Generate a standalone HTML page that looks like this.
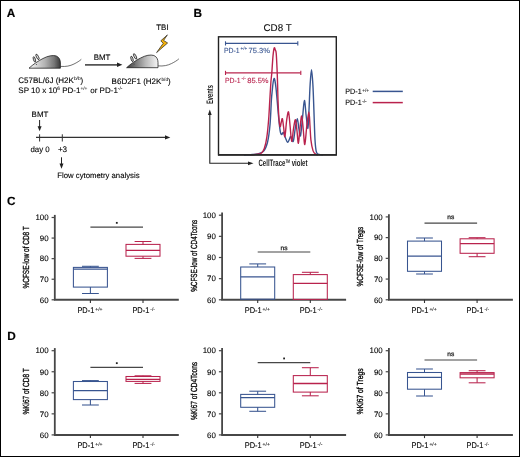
<!DOCTYPE html>
<html><head><meta charset="utf-8"><style>
html,body{margin:0;padding:0;background:#fff;}
#f{position:relative;width:520px;height:457px;overflow:hidden;background:#fff;}
svg{position:absolute;left:0;top:0;}
svg text{font-family:'Liberation Sans', sans-serif;text-rendering:geometricPrecision;}
</style></head><body><div id="f">
<svg width="520" height="457" viewBox="0 0 520 457">
<defs><filter id="bl" x="0" y="0" width="520" height="457" filterUnits="userSpaceOnUse"><feGaussianBlur stdDeviation="0.4"/></filter></defs>
<g filter="url(#bl)"><rect x="0" y="0" width="520" height="457" fill="#fff"/>
<text x="6.8" y="16.9" font-size="11.8" text-anchor="start" font-weight="bold" fill="#000" stroke="#000" stroke-width="0.15" >A</text>
<text x="193.4" y="16.9" font-size="11.8" text-anchor="start" font-weight="bold" fill="#000" stroke="#000" stroke-width="0.15" >B</text>
<text x="6.9" y="205.0" font-size="11.8" text-anchor="start" font-weight="bold" fill="#000" stroke="#000" stroke-width="0.15" >C</text>
<text x="7.2" y="340.0" font-size="11.8" text-anchor="start" font-weight="bold" fill="#000" stroke="#000" stroke-width="0.15" >D</text>
<defs><linearGradient id="g1" x1="29" y1="0" x2="60.5" y2="0" gradientUnits="userSpaceOnUse"><stop offset="0" stop-color="#f6f6f6"/><stop offset="0.5" stop-color="#b4b4b4"/><stop offset="0.8" stop-color="#767676"/><stop offset="1" stop-color="#3a3a3a"/></linearGradient><linearGradient id="g2" x1="29" y1="0" x2="60.5" y2="0" gradientUnits="userSpaceOnUse"><stop offset="0" stop-color="#3a3a3a"/><stop offset="0.3" stop-color="#7a7a7a"/><stop offset="0.6" stop-color="#b8b8b8"/><stop offset="1" stop-color="#f6f6f6"/></linearGradient></defs>
<g transform="translate(0,0)"><path d="M60.5,66.4 C66,66.8 70,66 74,64 C77,62.5 79.5,61 81.3,59.3" fill="none" stroke="#333" stroke-width="0.7"/><path d="M29,68.2 C33,64.5 38,61 43,58.5 C48,55.8 53,54.9 56.3,56 C59.2,57.2 60.4,60 60.4,63 L60.4,68.2 Z" fill="url(#g1)" stroke="#1a1a1a" stroke-width="0.75"/><ellipse cx="34.4" cy="59.4" rx="1.0" ry="2.8" transform="rotate(-17 34.4 59.4)" fill="#cfcfcf" stroke="#111" stroke-width="0.7"/><ellipse cx="37.5" cy="56.9" rx="1.05" ry="3.0" transform="rotate(-27 37.5 56.9)" fill="#dcdcdc" stroke="#111" stroke-width="0.7"/><circle cx="36.4" cy="64.6" r="0.5" fill="#333"/></g>
<g transform="translate(97.6,-0.5)"><path d="M60.5,66.4 C66,66.8 70,66 74,64 C77,62.5 79.5,61 81.3,59.3" fill="none" stroke="#333" stroke-width="0.7"/><path d="M29,68.2 C33,64.5 38,61 43,58.5 C48,55.8 53,54.9 56.3,56 C59.2,57.2 60.4,60 60.4,63 L60.4,68.2 Z" fill="url(#g2)" stroke="#1a1a1a" stroke-width="0.75"/><ellipse cx="34.4" cy="59.4" rx="1.0" ry="2.8" transform="rotate(-17 34.4 59.4)" fill="#cfcfcf" stroke="#111" stroke-width="0.7"/><ellipse cx="37.5" cy="56.9" rx="1.05" ry="3.0" transform="rotate(-27 37.5 56.9)" fill="#dcdcdc" stroke="#111" stroke-width="0.7"/><circle cx="36.4" cy="64.6" r="0.5" fill="#333"/></g>
<line x1="85" y1="64.8" x2="118" y2="64.8" stroke="#555" stroke-width="1.7"/>
<path d="M117,62.6 L122.4,64.8 L117,67 Z" fill="#222"/>
<text x="93.7" y="59.7" font-size="7.9" text-anchor="start" font-weight="normal" fill="#000" stroke="#000" stroke-width="0.1" >BMT</text>
<text x="156.3" y="29.8" font-size="7.9" text-anchor="start" font-weight="normal" fill="#000" stroke="#000" stroke-width="0.1" >TBI</text>
<path d="M167.4,34.9 L160.8,40.8 L163.2,43.3 L156.6,52.6 L167.6,43.0 L163.6,40.4 Z" fill="#f3b10a" stroke="#222" stroke-width="0.7" stroke-linejoin="round"/>
<text x="18.3" y="82.9" font-size="8" fill="#000" stroke="#000" stroke-width="0.1">C57BL/6J (H2K<tspan font-size="4.8" dy="-2.5" fill="#222" stroke="#222" stroke-width="0.08">b/b</tspan><tspan dy="2.5">)</tspan></text>
<text x="18.3" y="92.8" font-size="8" fill="#000" stroke="#000" stroke-width="0.1">SP 10 x 10<tspan font-size="4.8" dy="-2.5" fill="#222" stroke="#222" stroke-width="0.08">6</tspan><tspan dy="2.5"> PD-1</tspan><tspan font-size="4.8" dy="-2.5" fill="#222" stroke="#222" stroke-width="0.08">+/+</tspan><tspan dy="2.5" dx="0.7"> or PD-1</tspan><tspan font-size="4.8" dy="-2.5" fill="#222" stroke="#222" stroke-width="0.08">-/-</tspan></text>
<text x="111.6" y="83.7" font-size="8" fill="#000" stroke="#000" stroke-width="0.1">B6D2F1 (H2K<tspan font-size="4.8" dy="-2.5" fill="#222" stroke="#222" stroke-width="0.08">b/d</tspan><tspan dy="2.5">)</tspan></text>
<text x="31.6" y="116.9" font-size="7.95" text-anchor="start" font-weight="normal" fill="#000" stroke="#000" stroke-width="0.1" >BMT</text>
<line x1="39.6" y1="120" x2="39.6" y2="127" stroke="#222" stroke-width="1"/>
<path d="M37.6,126.3 L41.6,126.3 L39.6,131.3 Z" fill="#222"/>
<line x1="36" y1="137.4" x2="166" y2="137.4" stroke="#333" stroke-width="1.1"/>
<path d="M165,135.3 L170.3,137.4 L165,139.5 Z" fill="#222"/>
<line x1="39.6" y1="134.3" x2="39.6" y2="141.5" stroke="#333" stroke-width="1"/>
<line x1="62.3" y1="134.3" x2="62.3" y2="141.5" stroke="#333" stroke-width="1"/>
<text x="30.4" y="152.4" font-size="7.9" text-anchor="start" font-weight="normal" fill="#000" stroke="#000" stroke-width="0.1" >day 0</text>
<text x="57.9" y="152.4" font-size="8.1" text-anchor="start" font-weight="normal" fill="#000" stroke="#000" stroke-width="0.1" >+3</text>
<line x1="61.5" y1="157.3" x2="61.5" y2="164" stroke="#222" stroke-width="1"/>
<path d="M59.5,163.6 L63.5,163.6 L61.5,168.8 Z" fill="#222"/>
<text x="57.3" y="178.3" font-size="7.75" text-anchor="start" font-weight="normal" fill="#000" stroke="#000" stroke-width="0.1" >Flow cytometry analysis</text>
<text x="263.5" y="31.2" font-size="9.8" text-anchor="start" font-weight="normal" fill="#111" stroke="#111" stroke-width="0.1" >CD8 T</text>
<path d="M244.00,155.00 C244.67,154.97 246.58,154.88 248.00,154.80 C249.42,154.72 250.92,154.63 252.50,154.50 C254.08,154.37 255.63,154.57 257.50,154.00 C259.37,153.43 262.03,153.03 263.70,151.10 C265.37,149.17 266.45,146.75 267.50,142.40 C268.55,138.05 269.35,132.07 270.00,125.00 C270.65,117.93 271.02,105.83 271.40,100.00 C271.78,94.17 272.00,93.00 272.30,90.00 C272.60,87.00 272.90,83.93 273.20,82.00 C273.50,80.07 273.80,78.57 274.10,78.40 C274.40,78.23 274.68,79.40 275.00,81.00 C275.32,82.60 275.65,84.83 276.00,88.00 C276.35,91.17 276.70,95.50 277.10,100.00 C277.50,104.50 277.97,110.40 278.40,115.00 C278.83,119.60 279.33,124.60 279.70,127.60 C280.07,130.60 280.27,131.85 280.60,133.00 C280.93,134.15 281.23,134.57 281.70,134.50 C282.17,134.43 282.77,132.02 283.40,132.60 C284.03,133.18 284.80,136.37 285.50,138.00 C286.20,139.63 286.93,142.23 287.60,142.40 C288.27,142.57 288.97,139.98 289.50,139.00 C290.03,138.02 290.18,136.10 290.80,136.50 C291.42,136.90 292.45,142.82 293.20,141.40 C293.95,139.98 294.62,131.78 295.30,128.00 C295.98,124.22 296.72,118.70 297.30,118.70 C297.88,118.70 298.27,125.17 298.80,128.00 C299.33,130.83 299.87,137.53 300.50,135.70 C301.13,133.87 301.95,122.88 302.60,117.00 C303.25,111.12 303.80,100.57 304.40,100.40 C305.00,100.23 305.62,111.37 306.20,116.00 C306.78,120.63 307.43,129.20 307.90,128.20 C308.37,127.20 308.63,117.20 309.00,110.00 C309.37,102.80 309.68,91.70 310.10,85.00 C310.52,78.30 311.03,69.80 311.50,69.80 C311.97,69.80 312.50,78.30 312.90,85.00 C313.30,91.70 313.55,100.87 313.90,110.00 C314.25,119.13 314.58,132.80 315.00,139.80 C315.42,146.80 315.73,149.57 316.40,152.00 C317.07,154.43 317.90,153.93 319.00,154.40 C320.10,154.87 322.33,154.73 323.00,154.80" fill="none" stroke="#385590" stroke-width="1.4" stroke-linejoin="round"/>
<path d="M250.00,154.90 C250.50,154.87 251.75,154.83 253.00,154.70 C254.25,154.57 256.13,154.33 257.50,154.10 C258.87,153.87 260.07,154.22 261.20,153.30 C262.33,152.38 263.37,151.25 264.30,148.60 C265.23,145.95 266.07,142.38 266.80,137.40 C267.53,132.42 268.20,124.93 268.70,118.70 C269.20,112.47 269.43,106.12 269.80,100.00 C270.17,93.88 270.57,86.50 270.90,82.00 C271.23,77.50 271.45,77.33 271.80,73.00 C272.15,68.67 272.60,60.18 273.00,56.00 C273.40,51.82 273.82,48.90 274.20,47.90 C274.58,46.90 274.97,49.12 275.30,50.00 C275.63,50.88 275.90,49.87 276.20,53.20 C276.50,56.53 276.87,64.70 277.10,70.00 C277.33,75.30 277.45,80.00 277.60,85.00 C277.75,90.00 277.78,94.58 278.00,100.00 C278.22,105.42 278.55,113.05 278.90,117.50 C279.25,121.95 279.70,125.95 280.10,126.70 C280.50,127.45 280.92,123.32 281.30,122.00 C281.68,120.68 282.02,117.97 282.40,118.80 C282.78,119.63 283.18,124.05 283.60,127.00 C284.02,129.95 284.38,137.67 284.90,136.50 C285.42,135.33 286.10,124.10 286.70,120.00 C287.30,115.90 287.93,110.90 288.50,111.90 C289.07,112.90 289.57,121.08 290.10,126.00 C290.63,130.92 291.12,141.07 291.70,141.40 C292.28,141.73 292.97,131.60 293.60,128.00 C294.23,124.40 294.93,119.30 295.50,119.80 C296.07,120.30 296.52,127.08 297.00,131.00 C297.48,134.92 297.90,143.80 298.40,143.30 C298.90,142.80 299.45,132.55 300.00,128.00 C300.55,123.45 301.15,115.67 301.70,116.00 C302.25,116.33 302.78,125.25 303.30,130.00 C303.82,134.75 304.22,145.17 304.80,144.50 C305.38,143.83 306.12,131.42 306.80,126.00 C307.48,120.58 308.37,112.00 308.90,112.00 C309.43,112.00 309.67,121.37 310.00,126.00 C310.33,130.63 310.40,135.70 310.90,139.80 C311.40,143.90 312.20,148.20 313.00,150.60 C313.80,153.00 314.87,153.50 315.70,154.20 C316.53,154.90 317.62,154.70 318.00,154.80" fill="none" stroke="#b9244e" stroke-width="1.4" stroke-linejoin="round"/>
<rect x="218.5" y="36.8" width="117.8" height="118.0" fill="none" stroke="#222" stroke-width="1.4"/>
<line x1="218" y1="154.8" x2="336.8" y2="154.8" stroke="#2a2a2a" stroke-width="1.7"/>
<line x1="225.5" y1="43.4" x2="297.8" y2="43.4" stroke="#385590" stroke-width="1.1"/>
<line x1="225.5" y1="41.3" x2="225.5" y2="45.5" stroke="#385590" stroke-width="1.1"/>
<line x1="297.8" y1="41.3" x2="297.8" y2="45.5" stroke="#385590" stroke-width="1.1"/>
<line x1="225.5" y1="72.9" x2="300.8" y2="72.9" stroke="#b9244e" stroke-width="1.1"/>
<line x1="225.5" y1="70.80000000000001" x2="225.5" y2="75.0" stroke="#b9244e" stroke-width="1.1"/>
<line x1="300.8" y1="70.80000000000001" x2="300.8" y2="75.0" stroke="#b9244e" stroke-width="1.1"/>
<text x="223.94" y="52.7" font-size="7.4" fill="#385590" stroke="#385590" stroke-width="0.1" textLength="15.68" lengthAdjust="spacingAndGlyphs">PD-1</text>
<text x="240.51" y="50.0" font-size="4.6" fill="#385590" stroke="#385590" stroke-width="0.1">+/+</text>
<text x="248.6" y="52.7" font-size="7.4" fill="#385590" stroke="#385590" stroke-width="0.1" textLength="21.4" lengthAdjust="spacingAndGlyphs">75.3%</text>
<text x="224.94" y="82.7" font-size="7.4" fill="#b9244e" stroke="#b9244e" stroke-width="0.1" textLength="15.68" lengthAdjust="spacingAndGlyphs">PD-1</text>
<text x="241.51" y="80.0" font-size="4.6" fill="#b9244e" stroke="#b9244e" stroke-width="0.1">-/-</text>
<text x="247.2" y="82.7" font-size="7.4" fill="#b9244e" stroke="#b9244e" stroke-width="0.1" textLength="21.4" lengthAdjust="spacingAndGlyphs">85.5%</text>
<path d="M209.8,114 L209.8,163.3 L249,163.3" fill="none" stroke="#222" stroke-width="1.1"/>
<path d="M207.9,115 L209.8,109.5 L211.7,115 Z" fill="#222"/>
<path d="M248,161.4 L253.5,163.3 L248,165.2 Z" fill="#222"/>
<text transform="translate(213,104) rotate(-90)" font-size="9.4" font-weight="bold" fill="#222" textLength="19" lengthAdjust="spacingAndGlyphs">Events</text>
<text x="258.5" y="166.2" font-size="9.4" font-weight="bold" fill="#222" textLength="49" lengthAdjust="spacingAndGlyphs">CellTrace<tspan font-size="5" dy="-3.3">TM</tspan><tspan dy="3.3"> violet</tspan></text>
<text x="345.31" y="93.8" font-size="7.7" fill="#000" stroke="#000" stroke-width="0.1" textLength="16.31" lengthAdjust="spacingAndGlyphs">PD-1</text>
<text x="362.23" y="91.7" font-size="4.7" fill="#222" stroke="#222" stroke-width="0.1">+/+</text>
<text x="345.31" y="105.0" font-size="7.7" fill="#000" stroke="#000" stroke-width="0.1" textLength="16.31" lengthAdjust="spacingAndGlyphs">PD-1</text>
<text x="362.23" y="102.9" font-size="4.7" fill="#222" stroke="#222" stroke-width="0.1">-/-</text>
<line x1="372.7" y1="91.4" x2="402.8" y2="91.4" stroke="#385590" stroke-width="1.5"/>
<line x1="372.7" y1="102.6" x2="402.8" y2="102.6" stroke="#b9244e" stroke-width="1.5"/>
<line x1="54.8" y1="214.9" x2="54.8" y2="299.8" stroke="#474747" stroke-width="1.8"/>
<line x1="53.9" y1="299.8" x2="178.8" y2="299.8" stroke="#474747" stroke-width="2"/>
<line x1="51.599999999999994" y1="217.50" x2="54.8" y2="217.50" stroke="#474747" stroke-width="1.2"/>
<text x="48.599999999999994" y="220.25" font-size="7.9" text-anchor="end" font-weight="normal" fill="#000" stroke="#000" stroke-width="0.1" >100</text>
<line x1="51.599999999999994" y1="238.07" x2="54.8" y2="238.07" stroke="#474747" stroke-width="1.2"/>
<text x="48.599999999999994" y="240.82" font-size="7.9" text-anchor="end" font-weight="normal" fill="#000" stroke="#000" stroke-width="0.1" >90</text>
<line x1="51.599999999999994" y1="258.65" x2="54.8" y2="258.65" stroke="#474747" stroke-width="1.2"/>
<text x="48.599999999999994" y="261.4" font-size="7.9" text-anchor="end" font-weight="normal" fill="#000" stroke="#000" stroke-width="0.1" >80</text>
<line x1="51.599999999999994" y1="279.23" x2="54.8" y2="279.23" stroke="#474747" stroke-width="1.2"/>
<text x="48.599999999999994" y="281.98" font-size="7.9" text-anchor="end" font-weight="normal" fill="#000" stroke="#000" stroke-width="0.1" >70</text>
<line x1="51.599999999999994" y1="299.80" x2="54.8" y2="299.80" stroke="#474747" stroke-width="1.2"/>
<text x="48.599999999999994" y="302.55" font-size="7.9" text-anchor="end" font-weight="normal" fill="#000" stroke="#000" stroke-width="0.1" >60</text>
<line x1="90.4" y1="299.8" x2="90.4" y2="303.0" stroke="#333" stroke-width="1.1"/>
<line x1="143.0" y1="299.8" x2="143.0" y2="303.0" stroke="#333" stroke-width="1.1"/>
<text x="77.39" y="313.1" font-size="8.2" fill="#000" stroke="#000" stroke-width="0.1" textLength="17.00" lengthAdjust="spacingAndGlyphs">PD-1</text>
<text x="95.29" y="311.0" font-size="5.0" fill="#222" stroke="#222" stroke-width="0.1">+/+</text>
<text x="132.39" y="313.1" font-size="8.2" fill="#000" stroke="#000" stroke-width="0.1" textLength="17.00" lengthAdjust="spacingAndGlyphs">PD-1</text>
<text x="150.29" y="311.0" font-size="5.0" fill="#222" stroke="#222" stroke-width="0.1">-/-</text>
<text transform="translate(29.199999999999996,257.35) rotate(-90)" font-size="8.8" fill="#000" stroke="#000" stroke-width="0.3" text-anchor="middle" textLength="62.3" lengthAdjust="spacingAndGlyphs">%CFSE-low of CD8 T</text>
<rect x="73.4" y="267.4" width="34" height="19.70" stroke="#385590" stroke-width="1.05" fill="none"/>
<line x1="73.4" y1="269.2" x2="107.4" y2="269.2" stroke="#385590" stroke-width="1.3"/>
<line x1="90.4" y1="266.3" x2="90.4" y2="267.4" stroke="#385590" stroke-width="1.05" fill="none"/>
<line x1="82.0" y1="266.3" x2="98.80000000000001" y2="266.3" stroke="#385590" stroke-width="1.05" fill="none"/>
<line x1="90.4" y1="287.1" x2="90.4" y2="293.5" stroke="#385590" stroke-width="1.05" fill="none"/>
<line x1="82.0" y1="293.5" x2="98.80000000000001" y2="293.5" stroke="#385590" stroke-width="1.05" fill="none"/>
<rect x="126.0" y="244.4" width="34" height="11.80" stroke="#b9244e" stroke-width="1.05" fill="none"/>
<line x1="126.0" y1="250.4" x2="160.0" y2="250.4" stroke="#b9244e" stroke-width="1.3"/>
<line x1="143.0" y1="241.5" x2="143.0" y2="244.4" stroke="#b9244e" stroke-width="1.05" fill="none"/>
<line x1="134.6" y1="241.5" x2="151.4" y2="241.5" stroke="#b9244e" stroke-width="1.05" fill="none"/>
<line x1="143.0" y1="256.2" x2="143.0" y2="258.4" stroke="#b9244e" stroke-width="1.05" fill="none"/>
<line x1="134.6" y1="258.4" x2="151.4" y2="258.4" stroke="#b9244e" stroke-width="1.05" fill="none"/>
<line x1="90.4" y1="227.1" x2="143.0" y2="227.1" stroke="#474747" stroke-width="1.2"/>
<rect x="115.90" y="221.95" width="1.8" height="1.8" fill="#222"/>
<line x1="222.1" y1="212.6" x2="222.1" y2="299.8" stroke="#474747" stroke-width="1.8"/>
<line x1="221.2" y1="299.8" x2="346.1" y2="299.8" stroke="#474747" stroke-width="2"/>
<line x1="218.9" y1="215.20" x2="222.1" y2="215.20" stroke="#474747" stroke-width="1.2"/>
<text x="215.9" y="217.95" font-size="7.9" text-anchor="end" font-weight="normal" fill="#000" stroke="#000" stroke-width="0.1" >100</text>
<line x1="218.9" y1="236.35" x2="222.1" y2="236.35" stroke="#474747" stroke-width="1.2"/>
<text x="215.9" y="239.1" font-size="7.9" text-anchor="end" font-weight="normal" fill="#000" stroke="#000" stroke-width="0.1" >90</text>
<line x1="218.9" y1="257.50" x2="222.1" y2="257.50" stroke="#474747" stroke-width="1.2"/>
<text x="215.9" y="260.25" font-size="7.9" text-anchor="end" font-weight="normal" fill="#000" stroke="#000" stroke-width="0.1" >80</text>
<line x1="218.9" y1="278.65" x2="222.1" y2="278.65" stroke="#474747" stroke-width="1.2"/>
<text x="215.9" y="281.4" font-size="7.9" text-anchor="end" font-weight="normal" fill="#000" stroke="#000" stroke-width="0.1" >70</text>
<line x1="218.9" y1="299.80" x2="222.1" y2="299.80" stroke="#474747" stroke-width="1.2"/>
<text x="215.9" y="302.55" font-size="7.9" text-anchor="end" font-weight="normal" fill="#000" stroke="#000" stroke-width="0.1" >60</text>
<line x1="257.7" y1="299.8" x2="257.7" y2="303.0" stroke="#333" stroke-width="1.1"/>
<line x1="310.3" y1="299.8" x2="310.3" y2="303.0" stroke="#333" stroke-width="1.1"/>
<text x="244.69" y="313.1" font-size="8.2" fill="#000" stroke="#000" stroke-width="0.1" textLength="17.00" lengthAdjust="spacingAndGlyphs">PD-1</text>
<text x="262.59" y="311.0" font-size="5.0" fill="#222" stroke="#222" stroke-width="0.1">+/+</text>
<text x="299.69" y="313.1" font-size="8.2" fill="#000" stroke="#000" stroke-width="0.1" textLength="17.00" lengthAdjust="spacingAndGlyphs">PD-1</text>
<text x="317.59" y="311.0" font-size="5.0" fill="#222" stroke="#222" stroke-width="0.1">-/-</text>
<text transform="translate(196.5,255.8) rotate(-90)" font-size="8.8" fill="#000" stroke="#000" stroke-width="0.3" text-anchor="middle" textLength="72.0" lengthAdjust="spacingAndGlyphs">%CFSE-low of CD4Tcons</text>
<rect x="240.7" y="267.0" width="34" height="32.20" stroke="#385590" stroke-width="1.05" fill="none"/>
<line x1="240.7" y1="276.9" x2="274.7" y2="276.9" stroke="#385590" stroke-width="1.3"/>
<line x1="257.7" y1="263.9" x2="257.7" y2="267.0" stroke="#385590" stroke-width="1.05" fill="none"/>
<line x1="249.29999999999998" y1="263.9" x2="266.09999999999997" y2="263.9" stroke="#385590" stroke-width="1.05" fill="none"/>
<rect x="293.3" y="274.6" width="34" height="24.80" stroke="#b9244e" stroke-width="1.05" fill="none"/>
<line x1="293.3" y1="283.4" x2="327.3" y2="283.4" stroke="#b9244e" stroke-width="1.3"/>
<line x1="310.3" y1="272.3" x2="310.3" y2="274.6" stroke="#b9244e" stroke-width="1.05" fill="none"/>
<line x1="301.90000000000003" y1="272.3" x2="318.7" y2="272.3" stroke="#b9244e" stroke-width="1.05" fill="none"/>
<line x1="257.7" y1="252.0" x2="310.3" y2="252.0" stroke="#474747" stroke-width="1.2"/>
<text x="284.00" y="250.10" font-size="6.3" text-anchor="middle" fill="#1a1a1a" stroke="#1a1a1a" stroke-width="0.25" textLength="7.0" lengthAdjust="spacingAndGlyphs">ns</text>
<line x1="388.9" y1="214.3" x2="388.9" y2="299.8" stroke="#474747" stroke-width="1.8"/>
<line x1="388.0" y1="299.8" x2="512.9" y2="299.8" stroke="#474747" stroke-width="2"/>
<line x1="385.7" y1="216.90" x2="388.9" y2="216.90" stroke="#474747" stroke-width="1.2"/>
<text x="382.7" y="219.65" font-size="7.9" text-anchor="end" font-weight="normal" fill="#000" stroke="#000" stroke-width="0.1" >100</text>
<line x1="385.7" y1="237.62" x2="388.9" y2="237.62" stroke="#474747" stroke-width="1.2"/>
<text x="382.7" y="240.38" font-size="7.9" text-anchor="end" font-weight="normal" fill="#000" stroke="#000" stroke-width="0.1" >90</text>
<line x1="385.7" y1="258.35" x2="388.9" y2="258.35" stroke="#474747" stroke-width="1.2"/>
<text x="382.7" y="261.1" font-size="7.9" text-anchor="end" font-weight="normal" fill="#000" stroke="#000" stroke-width="0.1" >80</text>
<line x1="385.7" y1="279.07" x2="388.9" y2="279.07" stroke="#474747" stroke-width="1.2"/>
<text x="382.7" y="281.82" font-size="7.9" text-anchor="end" font-weight="normal" fill="#000" stroke="#000" stroke-width="0.1" >70</text>
<line x1="385.7" y1="299.80" x2="388.9" y2="299.80" stroke="#474747" stroke-width="1.2"/>
<text x="382.7" y="302.55" font-size="7.9" text-anchor="end" font-weight="normal" fill="#000" stroke="#000" stroke-width="0.1" >60</text>
<line x1="424.5" y1="299.8" x2="424.5" y2="303.0" stroke="#333" stroke-width="1.1"/>
<line x1="477.09999999999997" y1="299.8" x2="477.09999999999997" y2="303.0" stroke="#333" stroke-width="1.1"/>
<text x="411.49" y="313.1" font-size="8.2" fill="#000" stroke="#000" stroke-width="0.1" textLength="17.00" lengthAdjust="spacingAndGlyphs">PD-1</text>
<text x="429.39" y="311.0" font-size="5.0" fill="#222" stroke="#222" stroke-width="0.1">+/+</text>
<text x="466.49" y="313.1" font-size="8.2" fill="#000" stroke="#000" stroke-width="0.1" textLength="17.00" lengthAdjust="spacingAndGlyphs">PD-1</text>
<text x="484.39" y="311.0" font-size="5.0" fill="#222" stroke="#222" stroke-width="0.1">-/-</text>
<text transform="translate(363.29999999999995,256.65) rotate(-90)" font-size="8.8" fill="#000" stroke="#000" stroke-width="0.3" text-anchor="middle" textLength="59.5" lengthAdjust="spacingAndGlyphs">%CFSE-low of Tregs</text>
<rect x="407.5" y="241.1" width="34" height="30.20" stroke="#385590" stroke-width="1.05" fill="none"/>
<line x1="407.5" y1="256.2" x2="441.5" y2="256.2" stroke="#385590" stroke-width="1.3"/>
<line x1="424.5" y1="238.0" x2="424.5" y2="241.1" stroke="#385590" stroke-width="1.05" fill="none"/>
<line x1="416.1" y1="238.0" x2="432.9" y2="238.0" stroke="#385590" stroke-width="1.05" fill="none"/>
<line x1="424.5" y1="271.3" x2="424.5" y2="274.0" stroke="#385590" stroke-width="1.05" fill="none"/>
<line x1="416.1" y1="274.0" x2="432.9" y2="274.0" stroke="#385590" stroke-width="1.05" fill="none"/>
<rect x="460.09999999999997" y="238.8" width="34" height="14.50" stroke="#b9244e" stroke-width="1.05" fill="none"/>
<line x1="460.09999999999997" y1="243.7" x2="494.09999999999997" y2="243.7" stroke="#b9244e" stroke-width="1.3"/>
<line x1="477.09999999999997" y1="237.7" x2="477.09999999999997" y2="238.8" stroke="#b9244e" stroke-width="1.05" fill="none"/>
<line x1="468.7" y1="237.7" x2="485.49999999999994" y2="237.7" stroke="#b9244e" stroke-width="1.05" fill="none"/>
<line x1="477.09999999999997" y1="253.3" x2="477.09999999999997" y2="256.7" stroke="#b9244e" stroke-width="1.05" fill="none"/>
<line x1="468.7" y1="256.7" x2="485.49999999999994" y2="256.7" stroke="#b9244e" stroke-width="1.05" fill="none"/>
<line x1="424.5" y1="223.1" x2="477.09999999999997" y2="223.1" stroke="#474747" stroke-width="1.2"/>
<text x="450.80" y="219.20" font-size="6.3" text-anchor="middle" fill="#1a1a1a" stroke="#1a1a1a" stroke-width="0.25" textLength="7.0" lengthAdjust="spacingAndGlyphs">ns</text>
<line x1="54.8" y1="348.09999999999997" x2="54.8" y2="434.9" stroke="#474747" stroke-width="1.8"/>
<line x1="53.9" y1="434.9" x2="178.8" y2="434.9" stroke="#474747" stroke-width="2"/>
<line x1="51.599999999999994" y1="350.70" x2="54.8" y2="350.70" stroke="#474747" stroke-width="1.2"/>
<text x="48.599999999999994" y="353.45" font-size="7.9" text-anchor="end" font-weight="normal" fill="#000" stroke="#000" stroke-width="0.1" >100</text>
<line x1="51.599999999999994" y1="371.75" x2="54.8" y2="371.75" stroke="#474747" stroke-width="1.2"/>
<text x="48.599999999999994" y="374.5" font-size="7.9" text-anchor="end" font-weight="normal" fill="#000" stroke="#000" stroke-width="0.1" >90</text>
<line x1="51.599999999999994" y1="392.80" x2="54.8" y2="392.80" stroke="#474747" stroke-width="1.2"/>
<text x="48.599999999999994" y="395.55" font-size="7.9" text-anchor="end" font-weight="normal" fill="#000" stroke="#000" stroke-width="0.1" >80</text>
<line x1="51.599999999999994" y1="413.85" x2="54.8" y2="413.85" stroke="#474747" stroke-width="1.2"/>
<text x="48.599999999999994" y="416.6" font-size="7.9" text-anchor="end" font-weight="normal" fill="#000" stroke="#000" stroke-width="0.1" >70</text>
<line x1="51.599999999999994" y1="434.90" x2="54.8" y2="434.90" stroke="#474747" stroke-width="1.2"/>
<text x="48.599999999999994" y="437.65" font-size="7.9" text-anchor="end" font-weight="normal" fill="#000" stroke="#000" stroke-width="0.1" >60</text>
<line x1="90.4" y1="434.9" x2="90.4" y2="438.09999999999997" stroke="#333" stroke-width="1.1"/>
<line x1="143.0" y1="434.9" x2="143.0" y2="438.09999999999997" stroke="#333" stroke-width="1.1"/>
<text x="77.39" y="448.2" font-size="8.2" fill="#000" stroke="#000" stroke-width="0.1" textLength="17.00" lengthAdjust="spacingAndGlyphs">PD-1</text>
<text x="95.29" y="446.09999999999997" font-size="5.0" fill="#222" stroke="#222" stroke-width="0.1">+/+</text>
<text x="132.39" y="448.2" font-size="8.2" fill="#000" stroke="#000" stroke-width="0.1" textLength="17.00" lengthAdjust="spacingAndGlyphs">PD-1</text>
<text x="150.29" y="446.09999999999997" font-size="5.0" fill="#222" stroke="#222" stroke-width="0.1">-/-</text>
<text transform="translate(29.199999999999996,391.45) rotate(-90)" font-size="8.8" fill="#000" stroke="#000" stroke-width="0.3" text-anchor="middle" textLength="46.3" lengthAdjust="spacingAndGlyphs">%Ki67 of CD8 T</text>
<rect x="73.4" y="381.5" width="34" height="18.10" stroke="#385590" stroke-width="1.05" fill="none"/>
<line x1="73.4" y1="390.6" x2="107.4" y2="390.6" stroke="#385590" stroke-width="1.3"/>
<line x1="90.4" y1="380.6" x2="90.4" y2="381.5" stroke="#385590" stroke-width="1.05" fill="none"/>
<line x1="82.0" y1="380.6" x2="98.80000000000001" y2="380.6" stroke="#385590" stroke-width="1.05" fill="none"/>
<line x1="90.4" y1="399.6" x2="90.4" y2="405.0" stroke="#385590" stroke-width="1.05" fill="none"/>
<line x1="82.0" y1="405.0" x2="98.80000000000001" y2="405.0" stroke="#385590" stroke-width="1.05" fill="none"/>
<rect x="126.0" y="376.5" width="34" height="4.90" stroke="#b9244e" stroke-width="1.05" fill="none"/>
<line x1="126.0" y1="379.3" x2="160.0" y2="379.3" stroke="#b9244e" stroke-width="1.3"/>
<line x1="143.0" y1="375.8" x2="143.0" y2="376.5" stroke="#b9244e" stroke-width="1.05" fill="none"/>
<line x1="134.6" y1="375.8" x2="151.4" y2="375.8" stroke="#b9244e" stroke-width="1.05" fill="none"/>
<line x1="143.0" y1="381.4" x2="143.0" y2="383.4" stroke="#b9244e" stroke-width="1.05" fill="none"/>
<line x1="134.6" y1="383.4" x2="151.4" y2="383.4" stroke="#b9244e" stroke-width="1.05" fill="none"/>
<line x1="90.4" y1="367.4" x2="143.0" y2="367.4" stroke="#474747" stroke-width="1.2"/>
<rect x="115.90" y="362.25" width="1.8" height="1.8" fill="#222"/>
<line x1="222.1" y1="348.09999999999997" x2="222.1" y2="434.9" stroke="#474747" stroke-width="1.8"/>
<line x1="221.2" y1="434.9" x2="346.1" y2="434.9" stroke="#474747" stroke-width="2"/>
<line x1="218.9" y1="350.70" x2="222.1" y2="350.70" stroke="#474747" stroke-width="1.2"/>
<text x="215.9" y="353.45" font-size="7.9" text-anchor="end" font-weight="normal" fill="#000" stroke="#000" stroke-width="0.1" >100</text>
<line x1="218.9" y1="371.75" x2="222.1" y2="371.75" stroke="#474747" stroke-width="1.2"/>
<text x="215.9" y="374.5" font-size="7.9" text-anchor="end" font-weight="normal" fill="#000" stroke="#000" stroke-width="0.1" >90</text>
<line x1="218.9" y1="392.80" x2="222.1" y2="392.80" stroke="#474747" stroke-width="1.2"/>
<text x="215.9" y="395.55" font-size="7.9" text-anchor="end" font-weight="normal" fill="#000" stroke="#000" stroke-width="0.1" >80</text>
<line x1="218.9" y1="413.85" x2="222.1" y2="413.85" stroke="#474747" stroke-width="1.2"/>
<text x="215.9" y="416.6" font-size="7.9" text-anchor="end" font-weight="normal" fill="#000" stroke="#000" stroke-width="0.1" >70</text>
<line x1="218.9" y1="434.90" x2="222.1" y2="434.90" stroke="#474747" stroke-width="1.2"/>
<text x="215.9" y="437.65" font-size="7.9" text-anchor="end" font-weight="normal" fill="#000" stroke="#000" stroke-width="0.1" >60</text>
<line x1="257.7" y1="434.9" x2="257.7" y2="438.09999999999997" stroke="#333" stroke-width="1.1"/>
<line x1="310.3" y1="434.9" x2="310.3" y2="438.09999999999997" stroke="#333" stroke-width="1.1"/>
<text x="244.69" y="448.2" font-size="8.2" fill="#000" stroke="#000" stroke-width="0.1" textLength="17.00" lengthAdjust="spacingAndGlyphs">PD-1</text>
<text x="262.59" y="446.09999999999997" font-size="5.0" fill="#222" stroke="#222" stroke-width="0.1">+/+</text>
<text x="299.69" y="448.2" font-size="8.2" fill="#000" stroke="#000" stroke-width="0.1" textLength="17.00" lengthAdjust="spacingAndGlyphs">PD-1</text>
<text x="317.59" y="446.09999999999997" font-size="5.0" fill="#222" stroke="#222" stroke-width="0.1">-/-</text>
<text transform="translate(196.5,390.9) rotate(-90)" font-size="8.8" fill="#000" stroke="#000" stroke-width="0.3" text-anchor="middle" textLength="58.0" lengthAdjust="spacingAndGlyphs">%Ki67 of CD4Tcons</text>
<rect x="240.7" y="394.4" width="34" height="12.90" stroke="#385590" stroke-width="1.05" fill="none"/>
<line x1="240.7" y1="397.7" x2="274.7" y2="397.7" stroke="#385590" stroke-width="1.3"/>
<line x1="257.7" y1="391.2" x2="257.7" y2="394.4" stroke="#385590" stroke-width="1.05" fill="none"/>
<line x1="249.29999999999998" y1="391.2" x2="266.09999999999997" y2="391.2" stroke="#385590" stroke-width="1.05" fill="none"/>
<line x1="257.7" y1="407.3" x2="257.7" y2="411.3" stroke="#385590" stroke-width="1.05" fill="none"/>
<line x1="249.29999999999998" y1="411.3" x2="266.09999999999997" y2="411.3" stroke="#385590" stroke-width="1.05" fill="none"/>
<rect x="293.3" y="375.6" width="34" height="16.50" stroke="#b9244e" stroke-width="1.05" fill="none"/>
<line x1="293.3" y1="383.5" x2="327.3" y2="383.5" stroke="#b9244e" stroke-width="1.3"/>
<line x1="310.3" y1="367.7" x2="310.3" y2="375.6" stroke="#b9244e" stroke-width="1.05" fill="none"/>
<line x1="301.90000000000003" y1="367.7" x2="318.7" y2="367.7" stroke="#b9244e" stroke-width="1.05" fill="none"/>
<line x1="310.3" y1="392.1" x2="310.3" y2="395.8" stroke="#b9244e" stroke-width="1.05" fill="none"/>
<line x1="301.90000000000003" y1="395.8" x2="318.7" y2="395.8" stroke="#b9244e" stroke-width="1.05" fill="none"/>
<line x1="257.7" y1="362.7" x2="310.3" y2="362.7" stroke="#474747" stroke-width="1.2"/>
<rect x="283.20" y="357.55" width="1.8" height="1.8" fill="#222"/>
<line x1="388.9" y1="348.09999999999997" x2="388.9" y2="434.9" stroke="#474747" stroke-width="1.8"/>
<line x1="388.0" y1="434.9" x2="512.9" y2="434.9" stroke="#474747" stroke-width="2"/>
<line x1="385.7" y1="350.70" x2="388.9" y2="350.70" stroke="#474747" stroke-width="1.2"/>
<text x="382.7" y="353.45" font-size="7.9" text-anchor="end" font-weight="normal" fill="#000" stroke="#000" stroke-width="0.1" >100</text>
<line x1="385.7" y1="371.75" x2="388.9" y2="371.75" stroke="#474747" stroke-width="1.2"/>
<text x="382.7" y="374.5" font-size="7.9" text-anchor="end" font-weight="normal" fill="#000" stroke="#000" stroke-width="0.1" >90</text>
<line x1="385.7" y1="392.80" x2="388.9" y2="392.80" stroke="#474747" stroke-width="1.2"/>
<text x="382.7" y="395.55" font-size="7.9" text-anchor="end" font-weight="normal" fill="#000" stroke="#000" stroke-width="0.1" >80</text>
<line x1="385.7" y1="413.85" x2="388.9" y2="413.85" stroke="#474747" stroke-width="1.2"/>
<text x="382.7" y="416.6" font-size="7.9" text-anchor="end" font-weight="normal" fill="#000" stroke="#000" stroke-width="0.1" >70</text>
<line x1="385.7" y1="434.90" x2="388.9" y2="434.90" stroke="#474747" stroke-width="1.2"/>
<text x="382.7" y="437.65" font-size="7.9" text-anchor="end" font-weight="normal" fill="#000" stroke="#000" stroke-width="0.1" >60</text>
<line x1="424.5" y1="434.9" x2="424.5" y2="438.09999999999997" stroke="#333" stroke-width="1.1"/>
<line x1="477.09999999999997" y1="434.9" x2="477.09999999999997" y2="438.09999999999997" stroke="#333" stroke-width="1.1"/>
<text x="411.49" y="448.2" font-size="8.2" fill="#000" stroke="#000" stroke-width="0.1" textLength="17.00" lengthAdjust="spacingAndGlyphs">PD-1</text>
<text x="429.39" y="446.09999999999997" font-size="5.0" fill="#222" stroke="#222" stroke-width="0.1">+/+</text>
<text x="466.49" y="448.2" font-size="8.2" fill="#000" stroke="#000" stroke-width="0.1" textLength="17.00" lengthAdjust="spacingAndGlyphs">PD-1</text>
<text x="484.39" y="446.09999999999997" font-size="5.0" fill="#222" stroke="#222" stroke-width="0.1">-/-</text>
<text transform="translate(363.29999999999995,391.4) rotate(-90)" font-size="8.8" fill="#000" stroke="#000" stroke-width="0.3" text-anchor="middle" textLength="46.0" lengthAdjust="spacingAndGlyphs">%Ki67 of Tregs</text>
<rect x="407.5" y="372.5" width="34" height="16.70" stroke="#385590" stroke-width="1.05" fill="none"/>
<line x1="407.5" y1="377.3" x2="441.5" y2="377.3" stroke="#385590" stroke-width="1.3"/>
<line x1="424.5" y1="369.0" x2="424.5" y2="372.5" stroke="#385590" stroke-width="1.05" fill="none"/>
<line x1="416.1" y1="369.0" x2="432.9" y2="369.0" stroke="#385590" stroke-width="1.05" fill="none"/>
<line x1="424.5" y1="389.2" x2="424.5" y2="396.0" stroke="#385590" stroke-width="1.05" fill="none"/>
<line x1="416.1" y1="396.0" x2="432.9" y2="396.0" stroke="#385590" stroke-width="1.05" fill="none"/>
<rect x="460.09999999999997" y="372.6" width="34" height="5.20" stroke="#b9244e" stroke-width="1.05" fill="none"/>
<line x1="460.09999999999997" y1="374.0" x2="494.09999999999997" y2="374.0" stroke="#b9244e" stroke-width="1.3"/>
<line x1="477.09999999999997" y1="370.7" x2="477.09999999999997" y2="372.6" stroke="#b9244e" stroke-width="1.05" fill="none"/>
<line x1="468.7" y1="370.7" x2="485.49999999999994" y2="370.7" stroke="#b9244e" stroke-width="1.05" fill="none"/>
<line x1="477.09999999999997" y1="377.8" x2="477.09999999999997" y2="382.8" stroke="#b9244e" stroke-width="1.05" fill="none"/>
<line x1="468.7" y1="382.8" x2="485.49999999999994" y2="382.8" stroke="#b9244e" stroke-width="1.05" fill="none"/>
<line x1="424.5" y1="360.0" x2="477.09999999999997" y2="360.0" stroke="#474747" stroke-width="1.2"/>
<text x="450.80" y="356.10" font-size="6.3" text-anchor="middle" fill="#1a1a1a" stroke="#1a1a1a" stroke-width="0.25" textLength="7.0" lengthAdjust="spacingAndGlyphs">ns</text>
</g>
<rect x="0.5" y="0.5" width="519" height="456" fill="none" stroke="#000" stroke-width="1"/>
</svg></div></body></html>
